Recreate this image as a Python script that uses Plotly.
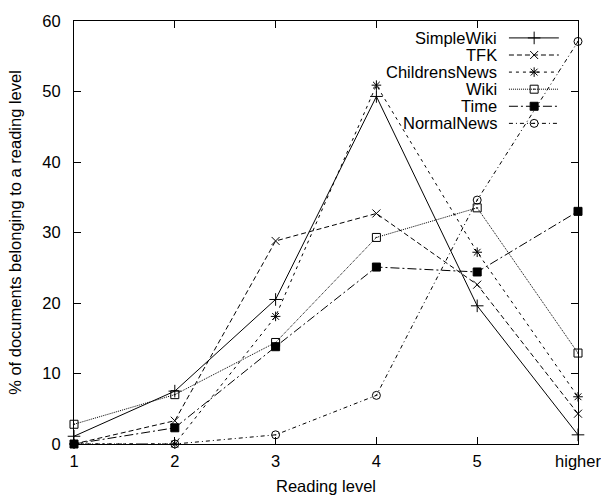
import plotly.graph_objects as go

levels = ["1", "2", "3", "4", "5", "higher"]
series_names = ["SimpleWiki", "TFK", "ChildrensNews", "Wiki", "Time", "NormalNews"]
simplewiki = [1.1, 7.5, 20.5, 49.3, 19.6, 1.3]
tfk = [0.0, 3.3, 28.8, 32.7, 22.6, 4.3]
childrensnews = [0.0, 0.0, 18.1, 50.9, 27.2, 6.7]
wiki = [2.8, 7.0, 14.4, 29.3, 33.5, 12.9]
time_ = [0.0, 2.3, 13.8, 25.1, 24.4, 33.0]
normalnews = [0.0, 0.0, 1.3, 6.9, 34.6, 57.1]
values = [simplewiki, tfk, childrensnews, wiki, time_, normalnews]

dashes = ["solid", "5px,3px", "3px,4px", "1px,1px", "9px,3px,2px,3px", "4px,3px,1px,3px"]
symbols = ["cross-thin-open", "x-thin-open", "asterisk-open", "square-open-dot", "square", "circle-open-dot"]
sizes = [9, 8, 8, 8, 8, 8]

FONT = "Liberation Sans, Arial, Helvetica, sans-serif"
FS = 16.5

fig = go.Figure()
for name, vals, d, s, sz in zip(series_names, values, dashes, symbols, sizes):
    fig.add_trace(go.Scatter(
        x=levels, y=vals, mode="lines+markers", name=name,
        line=dict(color="black", width=1, dash=d),
        marker=dict(symbol=s, size=sz, color="black", line=dict(color="black", width=1)),
        cliponaxis=False, showlegend=False,
    ))

# manual gnuplot-style legend (key) on an overlay axis with 0..1 range
row_top = 0.960
row_step = 0.0404
for i, (name, d, s, sz) in enumerate(zip(series_names, dashes, symbols, sizes)):
    yk = row_top - i * row_step
    fig.add_trace(go.Scatter(
        x=[0.863, 0.962], y=[yk, yk], mode="lines", xaxis="x2", yaxis="y2",
        line=dict(color="black", width=1, dash=d), showlegend=False, hoverinfo="skip",
        cliponaxis=False,
    ))
    fig.add_trace(go.Scatter(
        x=[0.913], y=[yk], mode="markers", xaxis="x2", yaxis="y2",
        marker=dict(symbol=s, size=sz, color="black", line=dict(color="black", width=1)),
        showlegend=False, hoverinfo="skip", cliponaxis=False,
    ))
    fig.add_annotation(
        x=0.843, y=yk, xref="x2", yref="y2", text=name, showarrow=False,
        xanchor="right", yanchor="middle", font=dict(family=FONT, size=FS, color="black"),
    )

fig.update_layout(
    width=601, height=496,
    margin=dict(l=74, r=23, t=21, b=52),
    paper_bgcolor="white", plot_bgcolor="white",
    font=dict(family=FONT, size=FS, color="black"),
    showlegend=False,
    xaxis=dict(
        type="category", range=[0, 5], showgrid=False, zeroline=False,
        showline=True, linecolor="black", linewidth=1, mirror="ticks",
        ticks="inside", ticklen=7, tickcolor="black", automargin=False,
        ticklabelstandoff=2, ticklabeloverflow="allow",
        title=dict(text="Reading level", standoff=11, font=dict(size=FS)),
        tickfont=dict(size=FS),
    ),
    yaxis=dict(
        range=[0, 60], dtick=10, showgrid=False, zeroline=False,
        showline=True, linecolor="black", linewidth=1, mirror="ticks",
        ticks="inside", ticklen=7, tickcolor="black", automargin=False,
        ticklabelstandoff=9,
        title=dict(text="% of documents belonging to a reading level", standoff=16, font=dict(size=FS)),
        tickfont=dict(size=FS),
    ),
    xaxis2=dict(overlaying="x", range=[0, 1], visible=False, anchor="y2"),
    yaxis2=dict(overlaying="y", range=[0, 1], visible=False, anchor="x2"),
)

fig.write_html(
    "out.html",
    config={"displayModeBar": False},
    post_script="document.body.style.margin='0px';document.body.style.overflow='hidden';",
)
